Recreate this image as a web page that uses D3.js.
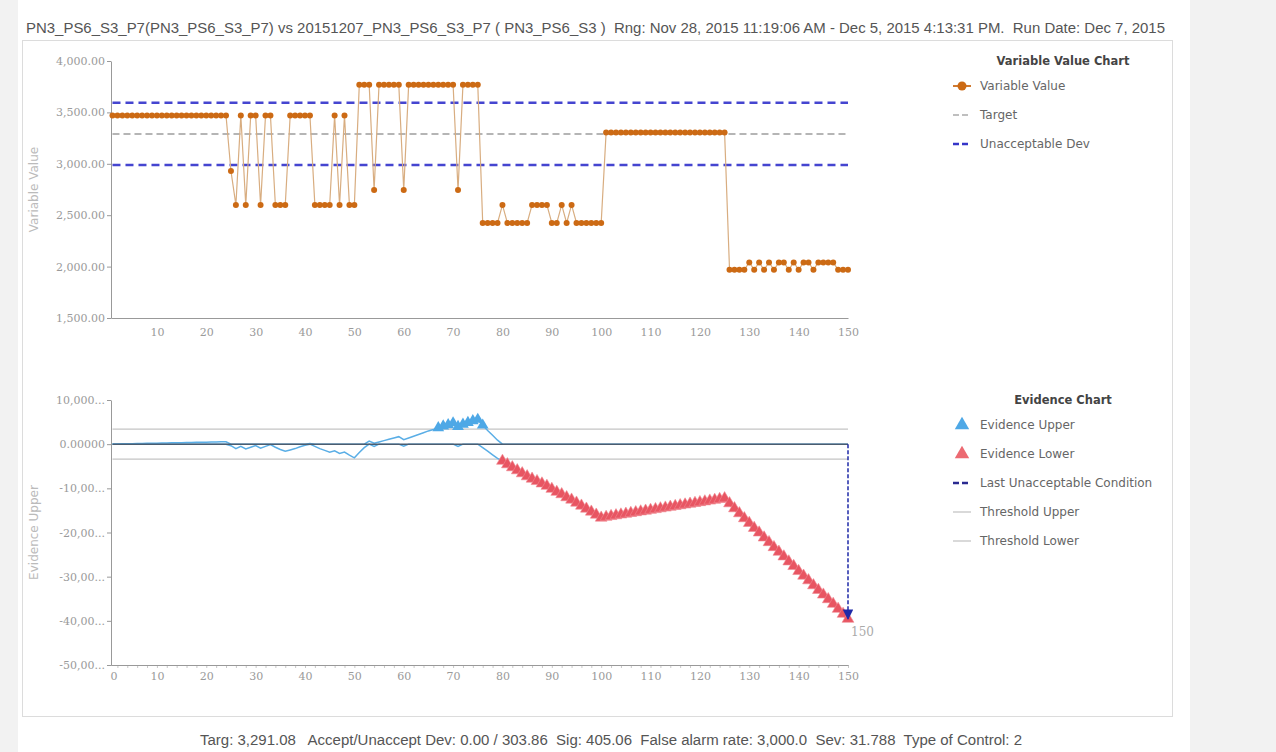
<!DOCTYPE html>
<html>
<head>
<meta charset="utf-8">
<script src="https://cdn.jsdelivr.net/npm/d3@7"></script>
<style>
body { margin: 0; background: #fff; }
</style>
</head>
<body>
<svg id="chart" width="1276" height="752" font-family="DejaVu Sans, sans-serif"></svg>
<script>
// sample number 1..150
const sampleIndex = d3.range(1, 151);

const variableValue = [
  3470, 3470, 3470, 3470, 3470, 3470, 3470, 3470, 3470, 3470,
  3470, 3470, 3470, 3470, 3470, 3470, 3470, 3470, 3470, 3470,
  3470, 3470, 3470, 3470, 2930, 2600, 3470, 2600, 3470, 3470,
  2600, 3470, 3470, 2600, 2600, 2600, 3470, 3470, 3470, 3470,
  3470, 2600, 2600, 2600, 2600, 3470, 2600, 3470, 2600, 2600,
  3770, 3770, 3770, 2745, 3770, 3770, 3770, 3770, 3770, 2745,
  3770, 3770, 3770, 3770, 3770, 3770, 3770, 3770, 3770, 3770,
  2745, 3770, 3770, 3770, 3770, 2425, 2425, 2425, 2425, 2600,
  2425, 2425, 2425, 2425, 2425, 2600, 2600, 2600, 2600, 2425,
  2425, 2600, 2425, 2600, 2425, 2425, 2425, 2425, 2425, 2425,
  3305, 3305, 3305, 3305, 3305, 3305, 3305, 3305, 3305, 3305,
  3305, 3305, 3305, 3305, 3305, 3305, 3305, 3305, 3305, 3305,
  3305, 3305, 3305, 3305, 3305, 1970, 1970, 1970, 1970, 2040,
  1970, 2040, 1970, 2040, 1970, 2040, 2040, 1970, 2040, 1970,
  2040, 2040, 1970, 2040, 2040, 2040, 2040, 1970, 1970, 1970
];

const evidenceUpper = [
  20, 40, 70, 90, 110, 140, 160, 180, 200, 230,
  250, 270, 300, 320, 340, 360, 390, 410, 430, 460,
  480, 500, 530, 550, 0, 0, 0, 0, 0, 0,
  0, 0, 0, 0, 0, 0, 0, 0, 0, 0,
  150, 0, 0, 0, 0, 0, 0, 0, 0, 0,
  0, 0, 700, 200, 500, 800, 1100, 1400, 1700, 1000,
  1400, 1800, 2200, 2600, 3000, 3300, 3700, 4100, 4400, 4800,
  4000, 4500, 4900, 5300, 5600, 4300, 3100, 2000, 900, 0,
  0, 0, 0, 0, 0, 0, 0, 0, 0, 0,
  0, 0, 0, 0, 0, 0, 0, 0, 0, 0,
  0, 0, 0, 0, 0, 0, 0, 0, 0, 0,
  0, 0, 0, 0, 0, 0, 0, 0, 0, 0,
  0, 0, 0, 0, 0, 0, 0, 0, 0, 0,
  0, 0, 0, 0, 0, 0, 0, 0, 0, 0,
  0, 0, 0, 0, 0, 0, 0, 0, 0, 0
];

const evidenceLower = [
  0, 0, 0, 0, 0, 0, 0, 0, 0, 0,
  0, 0, 0, 0, 0, 0, 0, 0, 0, 0,
  0, 0, 0, 0, -350, -1000, -500, -1100, -700, -300,
  -900, -500, -100, -700, -1200, -1600, -1300, -1000, -600, -250,
  0, -500, -1000, -1400, -1800, -1500, -2100, -1800, -2500, -3100,
  -1900, -800, 0, -500, 0, 0, 0, 0, 0, -450,
  0, 0, 0, 0, 0, 0, 0, 0, 0, 0,
  -500, 0, 0, 0, 0, -800, -1600, -2400, -3200, -3800,
  -4580, -5260, -5940, -6620, -7300, -7840, -8380, -8920, -9460, -10140,
  -10820, -11360, -12040, -12580, -13260, -13940, -14620, -15300, -15980, -16660,
  -16480, -16300, -16130, -15950, -15780, -15600, -15430, -15250, -15080, -14900,
  -14730, -14550, -14380, -14200, -14030, -13850, -13680, -13500, -13330, -13150,
  -12980, -12800, -12630, -12450, -12280, -13410, -14540, -15670, -16800, -17850,
  -18980, -20030, -21160, -22210, -23340, -24390, -25440, -26570, -27620, -28750,
  -29800, -30850, -31980, -33030, -34080, -35130, -36180, -37310, -38440, -39570
];

const target = 3291.08;
const unacceptDev = 303.86;
const threshold = 3400;

const xTicks = [10, 20, 30, 40, 50, 60, 70, 80, 90, 100, 110, 120, 130, 140, 150];
const xMinorTicks = d3.range(2, 151, 2);
const topYTicks = [1500, 2000, 2500, 3000, 3500, 4000];
const bottomYTicks = [10000, 0, -10000, -20000, -30000, -40000, -50000];
const bottomYLabels = ["10,000...", "0.00000", "-10,00...", "-20,00...", "-30,00...", "-40,00...", "-50,00..."];

const titleText = "PN3_PS6_S3_P7(PN3_PS6_S3_P7) vs 20151207_PN3_PS6_S3_P7 ( PN3_PS6_S3 )  Rng: Nov 28, 2015 11:19:06 AM - Dec 5, 2015 4:13:31 PM.  Run Date: Dec 7, 2015";
const footerText = "Targ: 3,291.08   Accept/Unaccept Dev: 0.00 / 303.86  Sig: 405.06  False alarm rate: 3,000.0  Sev: 31.788  Type of Control: 2";

const svg = d3.select("#chart");

// page frame
svg.append("rect").attr("x", 0).attr("y", 0).attr("width", 18).attr("height", 752).attr("fill", "#f2f2f2");
svg.append("rect").attr("x", 1190).attr("y", 0).attr("width", 86).attr("height", 752).attr("fill", "#f2f2f2");
svg.append("rect").attr("x", 22.5).attr("y", 40.5).attr("width", 1150).attr("height", 676)
  .attr("fill", "none").attr("stroke", "#dcdcdc");

const narrowFont = "Liberation Sans Narrow, Liberation Sans, Arial, sans-serif";

svg.append("text").attr("x", 26).attr("y", 33).text(titleText)
  .attr("font-family", narrowFont).attr("font-size", 14).style("white-space", "pre")
  .attr("fill", "#555").attr("textLength", 1139).attr("lengthAdjust", "spacingAndGlyphs");

svg.append("text").attr("x", 200).attr("y", 745).text(footerText)
  .attr("font-family", narrowFont).attr("font-size", 14).style("white-space", "pre")
  .attr("fill", "#555").attr("textLength", 822).attr("lengthAdjust", "spacingAndGlyphs");

const x = d3.scaleLinear().domain([0.7, 150]).range([111, 848]);
const yTop = d3.scaleLinear().domain([1500, 4000]).range([318, 61]);
const yBot = d3.scaleLinear().domain([-50000, 10000]).range([665, 400]);

const tickFont = "DejaVu Serif, serif";

function styleAxis(g) {
  g.select(".domain").attr("stroke", "#999");
  g.selectAll(".tick line").attr("stroke", "#999");
  g.selectAll(".tick text").attr("fill", "#9a9a9a").attr("font-family", tickFont).attr("font-size", 11);
}

// ---------- top chart ----------
const topChart = svg.append("g");

topChart.append("g").attr("transform", `translate(${x.range()[0]},0)`)
  .call(d3.axisLeft(yTop).tickValues(topYTicks).tickFormat(d3.format(",.2f")).tickSize(4).tickPadding(2).tickSizeOuter(0))
  .call(styleAxis);

topChart.append("g").attr("transform", `translate(0,${yTop.range()[0]})`)
  .call(d3.axisBottom(x).tickValues(xTicks).tickSize(0).tickPadding(10).tickSizeOuter(0))
  .call(styleAxis);

topChart.append("text")
  .attr("transform", `translate(38,${(yTop.range()[0] + yTop.range()[1]) / 2}) rotate(-90)`)
  .attr("text-anchor", "middle").attr("fill", "#bbb").attr("font-size", 12).text("Variable Value");

const refLine = (yScale, v) => topChart.append("line")
  .attr("x1", x(1)).attr("x2", x(150)).attr("y1", yScale(v)).attr("y2", yScale(v));

refLine(yTop, target).attr("stroke", "#b5b5b5").attr("stroke-width", 2).attr("stroke-dasharray", "7,4");
refLine(yTop, target + unacceptDev).attr("stroke", "#4545d0").attr("stroke-width", 2.5).attr("stroke-dasharray", "8,5");
refLine(yTop, target - unacceptDev).attr("stroke", "#4545d0").attr("stroke-width", 2.5).attr("stroke-dasharray", "8,5");

const valueLine = d3.line().x((d, i) => x(sampleIndex[i])).y(d => yTop(d));
topChart.append("path").datum(variableValue).attr("d", valueLine)
  .attr("fill", "none").attr("stroke", "#d8ad80").attr("stroke-width", 1.2);

topChart.selectAll("circle.v").data(variableValue).join("circle")
  .attr("class", "v")
  .attr("cx", (d, i) => x(sampleIndex[i])).attr("cy", d => yTop(d)).attr("r", 3)
  .attr("fill", "#cc6a14");

// ---------- bottom chart ----------
const botChart = svg.append("g");

botChart.append("g").attr("transform", `translate(${x.range()[0]},0)`)
  .call(d3.axisLeft(yBot).tickValues(bottomYTicks).tickFormat((d, i) => bottomYLabels[i]).tickSize(4).tickPadding(2).tickSizeOuter(0))
  .call(styleAxis);

botChart.append("g").attr("transform", `translate(0,${yBot.range()[0]})`)
  .call(d3.axisBottom(x).tickValues(xMinorTicks).tickSize(3).tickFormat("").tickSizeOuter(0))
  .call(g => { g.select(".domain").attr("stroke", "#999"); g.selectAll(".tick line").attr("stroke", "#c8c8c8"); });

botChart.append("g").attr("transform", `translate(0,${yBot.range()[0]})`)
  .call(d3.axisBottom(x).tickValues(xTicks).tickSize(0).tickPadding(7).tickSizeOuter(0))
  .call(styleAxis);

botChart.append("text").attr("x", x.range()[0] + 3).attr("y", yBot.range()[0] + 15)
  .attr("text-anchor", "middle").attr("fill", "#9a9a9a").attr("font-family", tickFont).attr("font-size", 11).text("0");

botChart.append("text")
  .attr("transform", `translate(38,${(yBot.range()[0] + yBot.range()[1]) / 2}) rotate(-90)`)
  .attr("text-anchor", "middle").attr("fill", "#bbb").attr("font-size", 12).text("Evidence Upper");

[threshold, -threshold].forEach(t => {
  botChart.append("line").attr("x1", x(1)).attr("x2", x(150)).attr("y1", yBot(t)).attr("y2", yBot(t))
    .attr("stroke", "#c4c4c4").attr("stroke-width", 1.2);
});

const evLine = d3.line().x((d, i) => x(sampleIndex[i])).y(d => yBot(d));

botChart.append("path").datum(evidenceLower).attr("d", evLine)
  .attr("fill", "none").attr("stroke", "#5aaee6").attr("stroke-width", 1.5);
botChart.append("path").datum(evidenceUpper).attr("d", evLine)
  .attr("fill", "none").attr("stroke", "#5aaee6").attr("stroke-width", 1.5);

// zero baseline of last unacceptable condition
const last = sampleIndex.length - 1;
botChart.append("line").attr("x1", x(1)).attr("x2", x(sampleIndex[last]))
  .attr("y1", yBot(0)).attr("y2", yBot(0)).attr("stroke", "#4b5d70").attr("stroke-width", 1.5);

const redLine = d3.line().defined(d => d < -threshold).x((d, i) => x(sampleIndex[i])).y(d => yBot(d));
botChart.append("path").datum(evidenceLower).attr("d", redLine)
  .attr("fill", "none").attr("stroke", "#e0505c").attr("stroke-width", 3);

const tri = d3.symbol().type(d3.symbolTriangle).size(60);

botChart.selectAll("path.up").data(evidenceUpper.map((v, i) => ({ v, i })).filter(d => d.v > threshold)).join("path")
  .attr("class", "up").attr("d", tri)
  .attr("transform", d => `translate(${x(sampleIndex[d.i])},${yBot(d.v)})`)
  .attr("fill", "#4ea8e6");

botChart.selectAll("path.lo").data(evidenceLower.map((v, i) => ({ v, i })).filter(d => d.v < -threshold)).join("path")
  .attr("class", "lo").attr("d", tri)
  .attr("transform", d => `translate(${x(sampleIndex[d.i])},${yBot(d.v)})`)
  .attr("fill", "#e85562").attr("stroke", "#f08a92").attr("stroke-width", 0.6);

svg.append("defs").append("marker").attr("id", "arrow")
  .attr("viewBox", "0 0 10 10").attr("refX", 9).attr("refY", 5)
  .attr("markerWidth", 7).attr("markerHeight", 7).attr("orient", "auto")
  .append("path").attr("d", "M0,0L10,5L0,10Z").attr("fill", "#1f2aa8");

botChart.append("line").attr("x1", x(sampleIndex[last])).attr("x2", x(sampleIndex[last]))
  .attr("y1", yBot(0)).attr("y2", yBot(evidenceLower[last]))
  .attr("stroke", "#1f2aa8").attr("stroke-width", 1.5).attr("stroke-dasharray", "4,2")
  .attr("marker-end", "url(#arrow)");

botChart.append("text").attr("x", x(sampleIndex[last]) + 3).attr("y", yBot(evidenceLower[last]) + 17)
  .attr("fill", "#aaa").attr("font-family", tickFont).attr("font-size", 12).text(sampleIndex[last]);

// ---------- legends ----------
function legend(y0, title, items) {
  const g = svg.append("g");
  g.append("text").attr("x", 1063).attr("y", y0).attr("text-anchor", "middle")
    .attr("font-weight", "bold").attr("font-size", 11.5).attr("fill", "#444").text(title);
  items.forEach((it, i) => {
    const yy = y0 + 25 + i * 29;
    const sw = g.append("g").attr("transform", `translate(962,${yy - 4})`);
    it.draw(sw);
    g.append("text").attr("x", 980).attr("y", yy).attr("font-size", 12).attr("fill", "#666").text(it.label);
  });
}

const dashSwatch = (color, w, dash) => s => s.append("line").attr("x1", -9).attr("x2", 9)
  .attr("stroke", color).attr("stroke-width", w).attr("stroke-dasharray", dash);

legend(65, "Variable Value Chart", [
  { label: "Variable Value", draw: s => {
      s.append("line").attr("x1", -9).attr("x2", 9).attr("stroke", "#d07a30").attr("stroke-width", 2);
      s.append("circle").attr("r", 4.5).attr("fill", "#cc6a14");
    } },
  { label: "Target", draw: dashSwatch("#aaa", 1.5, "6,3") },
  { label: "Unacceptable Dev", draw: dashSwatch("#3535c8", 2.5, "6,3") }
]);

const bigTri = d3.symbol().type(d3.symbolTriangle).size(90);
legend(404, "Evidence Chart", [
  { label: "Evidence Upper", draw: s => s.append("path").attr("d", bigTri).attr("fill", "#4ea8e6") },
  { label: "Evidence Lower", draw: s => s.append("path").attr("d", bigTri).attr("fill", "#ec6a72") },
  { label: "Last Unacceptable Condition", draw: dashSwatch("#2a2a90", 2.5, "6,3") },
  { label: "Threshold Upper", draw: dashSwatch("#ccc", 1.5, null) },
  { label: "Threshold Lower", draw: dashSwatch("#ccc", 1.5, null) }
]);
</script>
</body>
</html>
